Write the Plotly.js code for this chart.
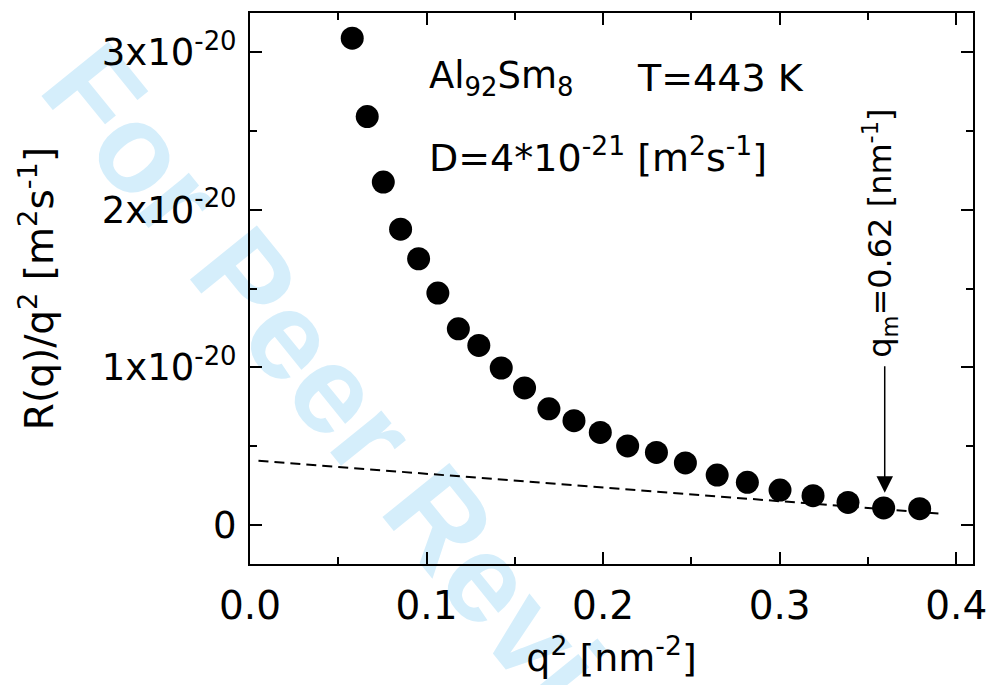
<!DOCTYPE html>
<html>
<head>
<meta charset="utf-8">
<script src="https://cdn.plot.ly/plotly-3.0.1.min.js"></script>
<style>
  html, body { margin: 0; padding: 0; background: #ffffff; }
  #wrap { position: relative; width: 992px; height: 685px; overflow: hidden; background: #ffffff; }
  #watermark {
    position: absolute; left: 376px; top: 440px;
    transform: translate(-50%, -50%) rotate(51deg);
    font-family: "Liberation Sans", Arial, sans-serif; font-weight: bold;
    font-size: 125px; line-height: 1; white-space: nowrap;
    color: rgb(213, 238, 251); z-index: 0;
  }
  #chart { position: absolute; left: 0; top: 0; width: 992px; height: 685px; z-index: 1; }
</style>
</head>
<body>
<div id="wrap">
  <div id="watermark">For Peer Review</div>
  <div id="chart"></div>
</div>
<script>
// ---- data ----
const qSquared = [0.0579, 0.0664, 0.0755, 0.0853, 0.0955, 0.1064, 0.1180, 0.1296, 0.1423, 0.1555,
                  0.1693, 0.1835, 0.1984, 0.2139, 0.2302, 0.2466, 0.2646, 0.2817, 0.3002, 0.3189,
                  0.3387, 0.3589, 0.3793];
const rOverQ2 = [3.090e-20, 2.592e-20, 2.176e-20, 1.877e-20, 1.689e-20, 1.471e-20, 1.244e-20, 1.138e-20,
                 0.995e-20, 0.868e-20, 0.736e-20, 0.660e-20, 0.586e-20, 0.500e-20, 0.459e-20, 0.392e-20,
                 0.315e-20, 0.269e-20, 0.220e-20, 0.184e-20, 0.141e-20, 0.106e-20, 0.101e-20];
const fitX = [0.0048, 0.3907];
const fitY = [0.406e-20, 0.070e-20];
const xTickVals = [0.0, 0.1, 0.2, 0.3, 0.4];
const xTickText = ["0.0", "0.1", "0.2", "0.3", "0.4"];
const yTickVals = [0, 1e-20, 2e-20, 3e-20];
const yTickText = ["0", "1x10<sup>-20</sup>", "2x10<sup>-20</sup>", "3x10<sup>-20</sup>"];
const qmX = 0.3595;          // arrow position q^2 of q_m
const qmArrowTipY = 0.203e-20;
const qmArrowTailY = 1.016e-20;

const FONT = "DejaVu Sans, Verdana, sans-serif";

const traces = [
  {
    x: qSquared, y: rOverQ2, type: "scatter", mode: "markers",
    marker: { symbol: "circle", size: 23, color: "#000000", line: { width: 0 } },
    showlegend: false, hoverinfo: "skip"
  },
  {
    x: fitX, y: fitY, type: "scatter", mode: "lines",
    line: { color: "#000000", width: 2, dash: "10px,6px" },
    showlegend: false, hoverinfo: "skip"
  }
];

const layout = {
  width: 992, height: 685,
  margin: { l: 250, r: 19, t: 13, b: 121, pad: 0 },
  paper_bgcolor: "rgba(0,0,0,0)",
  plot_bgcolor: "rgba(0,0,0,0)",
  font: { family: FONT, color: "#000000" },
  showlegend: false,
  xaxis: {
    range: [0, 0.4095], showgrid: false, zeroline: false,
    showline: true, linecolor: "#000000", linewidth: 2, mirror: "ticks",
    ticks: "inside", ticklen: 12, tickwidth: 2, tickcolor: "#000000",
    tickmode: "array", tickvals: xTickVals, ticktext: xTickText,
    tickfont: { family: FONT, size: 39, color: "#000000" },
    ticklabelstandoff: 6,
    minor: { ticks: "inside", ticklen: 7, tickwidth: 2, tickcolor: "#000000", dtick: 0.05, tick0: 0, showgrid: false },
    title: { text: "q<sup>2</sup> [nm<sup>-2</sup>]", font: { family: FONT, size: 38, color: "#000000" }, standoff: 18 },
    automargin: false
  },
  yaxis: {
    range: [-0.25e-20, 3.25e-20], showgrid: false, zeroline: false,
    showline: true, linecolor: "#000000", linewidth: 2, mirror: "ticks",
    ticks: "inside", ticklen: 12, tickwidth: 2, tickcolor: "#000000",
    tickmode: "array", tickvals: yTickVals, ticktext: yTickText,
    tickfont: { family: FONT, size: 37, color: "#000000" },
    ticklabelstandoff: 4,
    minor: { ticks: "inside", ticklen: 7, tickwidth: 2, tickcolor: "#000000", dtick: 0.5e-20, tick0: 0, showgrid: false },
    title: { text: "R(q)/q<sup>2</sup> [m<sup>2</sup>s<sup>-1</sup>]", font: { family: FONT, size: 39, color: "#000000" }, standoff: 36 },
    automargin: false
  },
  annotations: [
    {
      xref: "x", yref: "y", x: 0.1, y: 2.84e-20, xanchor: "left", yanchor: "middle",
      text: "Al<sub>92</sub>Sm<sub>8</sub>", showarrow: false,
      font: { family: FONT, size: 37, color: "#000000" }
    },
    {
      xref: "x", yref: "y", x: 0.2178, y: 2.84e-20, xanchor: "left", yanchor: "middle",
      text: "T=443 K", showarrow: false,
      font: { family: FONT, size: 38, color: "#000000" }
    },
    {
      xref: "x", yref: "y", x: 0.1, y: 2.35e-20, xanchor: "left", yanchor: "middle",
      text: "D=4*10<sup>-21</sup> [m<sup>2</sup>s<sup>-1</sup>]", showarrow: false,
      font: { family: FONT, size: 38, color: "#000000" }
    },
    {
      xref: "x", yref: "y", x: 0.357, y: 1.85e-20, xanchor: "center", yanchor: "middle",
      text: "q<sub>m</sub>=0.62 [nm<sup>-1</sup>]", showarrow: false, textangle: -90,
      font: { family: FONT, size: 32, color: "#000000" }
    },
    {
      xref: "x", yref: "y", x: qmX, y: qmArrowTipY,
      axref: "x", ayref: "y", ax: qmX, ay: qmArrowTailY,
      text: "", showarrow: true, arrowhead: 2, arrowsize: 2.2, arrowwidth: 1.5,
      arrowcolor: "#000000", standoff: 0, startstandoff: 0
    }
  ]
};

Plotly.newPlot("chart", traces, layout, { staticPlot: true, displayModeBar: false });
</script>
</body>
</html>
